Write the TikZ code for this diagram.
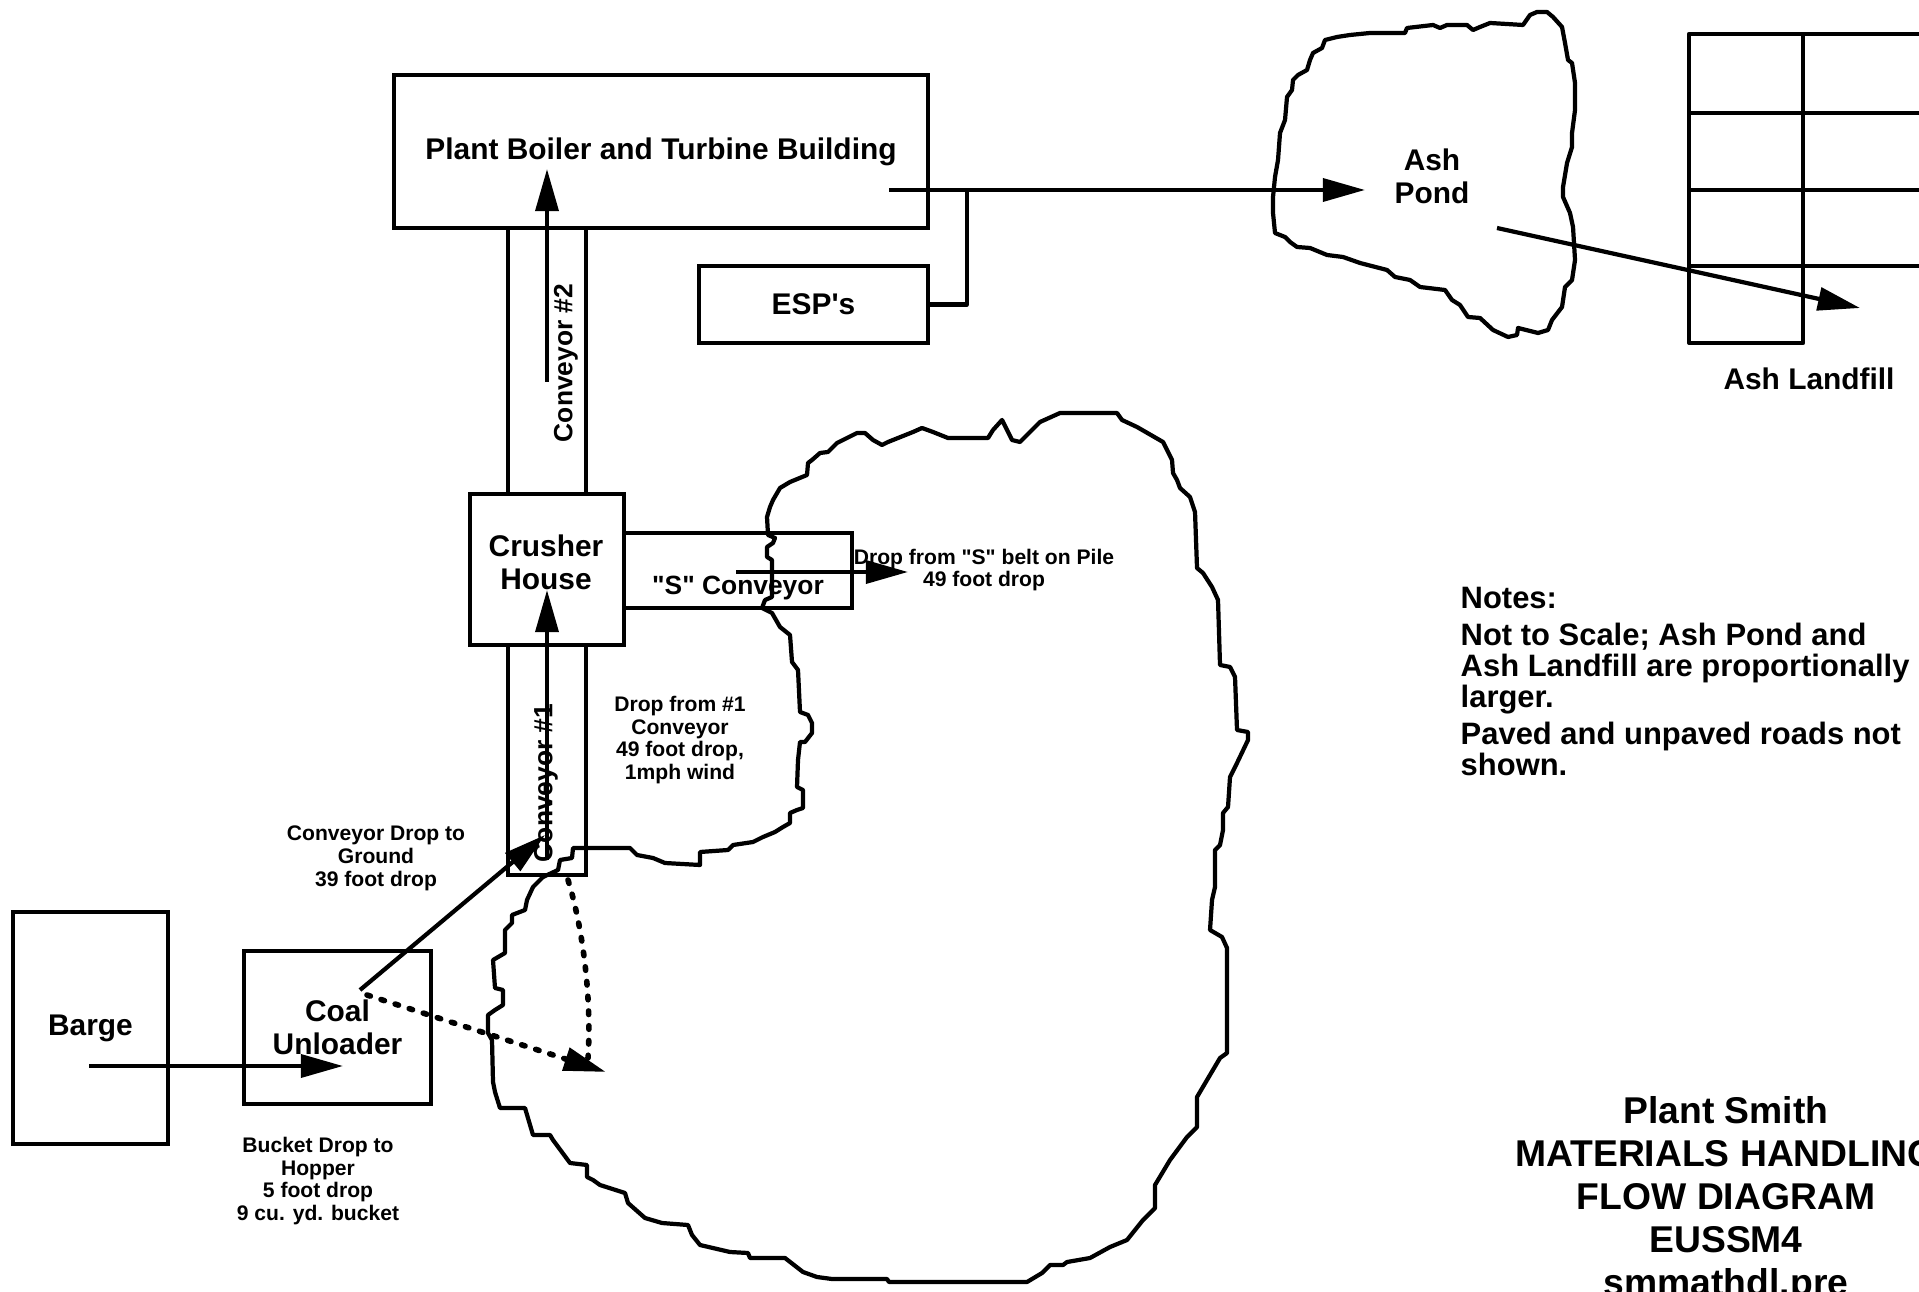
\documentclass[tikz,border=0pt]{standalone}
\usepackage{fontspec}
\setmainfont{Liberation Sans}[Ligatures=TeXOff]
\usetikzlibrary{arrows.meta}
\newcommand{\fntbox}{\fontsize{8.5}{9.3}\selectfont\bfseries}
\newcommand{\fntconv}{\fontsize{7.5}{8}\selectfont\bfseries}
\newcommand{\fntsmall}{\fontsize{6}{6.5}\selectfont\bfseries}
\newcommand{\fntnote}{\fontsize{8.8}{8.8}\selectfont\bfseries}
\newcommand{\fnttitle}{\fontsize{10.6}{12.2}\selectfont\bfseries}
\tikzset{
  box/.style={draw,line width=1.2pt,inner sep=0pt,font=\fntbox,align=center},
  lbl/.style={inner sep=0pt,font=\fntbox,align=center},
  small/.style={inner sep=0pt,font=\fntsmall,align=center},
  edge/.style={line width=1.2pt,line join=round},
  arr/.style={line width=1.2pt,-{Triangle[length=12pt,width=6.5pt]}},
  dots/.style={line width=1.6pt,line cap=round,dash pattern=on 1pt off 3.2pt},
}
\begin{document}
\begin{tikzpicture}[x=0.01cm,y=-0.01cm]
\useasboundingbox (0,0) rectangle (1919,1292);
% buildings and belts
\node[box,minimum width=5.34cm,minimum height=1.53cm] (boiler) at (661,151.5) {Plant Boiler and Turbine Building};
\node[box,minimum width=2.29cm,minimum height=0.77cm] (esp) at (813.5,304.5) {ESP's};
\node[box,minimum width=0.78cm,minimum height=2.66cm] (conv2) at (547,361) {};
\node[box,minimum width=1.54cm,minimum height=1.51cm] (crusher) at (547,569.5) {};
\node[box,minimum width=2.28cm,minimum height=0.75cm] (sconv) at (738,570.5) {};
\node[box,minimum width=0.78cm,minimum height=2.30cm] (conv1) at (547,760) {};
\node[box,minimum width=1.87cm,minimum height=1.53cm] (coal) at (337.5,1027.5) {Coal\\Unloader};
\node[box,minimum width=1.55cm,minimum height=2.32cm] (barge) at (90.5,1028) {Barge};
\node[lbl] (crushertxt) at (546,562) {Crusher\\House};
\node[lbl,font=\fntconv] (sconvtxt) at (738,588) {"S" Conveyor};
\node[lbl,font=\fntconv,rotate=90] (conv2txt) at (566,363) {Conveyor \#2};
\node[lbl,font=\fntconv,rotate=90] (conv1txt) at (546,783) {Conveyor \#1};

% coal pile
\draw[edge] (543,877) -- (558,870) -- (560,860) -- (572,858) -- (573,848) -- (630,848)
  -- (637,855) -- (653,858) -- (665,863) -- (700,865) -- (700,852) -- (728,850) -- (733,845)
  -- (753,842) -- (763,837) -- (775,832) -- (783,827) -- (790,823) -- (790,813) -- (797,810)
  -- (803,808) -- (803,790) -- (797,787) -- (798,760) -- (800,742) -- (805,742) -- (812,733)
  -- (812,723) -- (808,715) -- (800,712) -- (798,670) -- (792,662) -- (790,635) -- (780,627)
  -- (772,613) -- (762,608) -- (765,600) -- (772,597) -- (772,560) -- (767,557) -- (767,547)
  -- (773,543) -- (775,538) -- (768,535) -- (767,517) -- (770,507) -- (773,500) -- (780,488)
  -- (790,482) -- (807,475) -- (808,463) -- (812,460) -- (820,453) -- (828,452) -- (837,443)
  -- (857,433) -- (865,433) -- (873,440) -- (882,445) -- (888,442) -- (913,432) -- (922,428)
  -- (933,432) -- (948,438) -- (988,438) -- (993,430) -- (1002,420) -- (1007,430) -- (1012,440)
  -- (1020,442) -- (1035,427) -- (1040,422) -- (1060,413) -- (1117,413) -- (1122,420)
  -- (1137,427) -- (1163,442) -- (1172,460) -- (1173,473) -- (1177,480) -- (1180,488)
  -- (1190,497) -- (1195,512) -- (1197,568) -- (1203,573) -- (1212,587) -- (1218,600)
  -- (1220,665) -- (1230,667) -- (1235,677) -- (1237,730) -- (1248,732) -- (1248,740)
  -- (1237,763) -- (1230,777) -- (1228,807) -- (1223,813) -- (1223,830) -- (1220,845)
  -- (1215,850) -- (1215,887) -- (1212,900) -- (1210,930) -- (1222,937) -- (1227,948)
  -- (1227,1053) -- (1220,1058) -- (1207,1080) -- (1197,1097) -- (1197,1127) -- (1187,1137)
  -- (1170,1160) -- (1155,1185) -- (1155,1208) -- (1143,1220) -- (1127,1240) -- (1110,1247)
  -- (1090,1258) -- (1067,1262) -- (1063,1265) -- (1050,1265) -- (1042,1273) -- (1027,1282)
  -- (889,1282) -- (887,1279) -- (832,1279) -- (817,1277) -- (803,1272) -- (785,1258)
  -- (750,1258) -- (748,1253) -- (730,1252) -- (700,1245) -- (692,1235) -- (688,1225)
  -- (662,1223) -- (645,1218) -- (628,1203) -- (625,1193) -- (600,1185) -- (593,1180)
  -- (587,1177) -- (587,1165) -- (570,1163) -- (553,1140) -- (550,1135) -- (533,1135)
  -- (525,1108) -- (500,1108) -- (495,1092) -- (493,1082) -- (492,1040) -- (488,1033)
  -- (488,1015) -- (495,1010) -- (503,1005) -- (503,990) -- (495,988) -- (493,960)
  -- (505,953) -- (505,930) -- (512,923) -- (512,915) -- (525,910) -- (527,900) -- (533,887)
  -- cycle;

% ash pond
\draw[edge] (1273,197) -- (1275,177) -- (1278,160) -- (1280,133) -- (1285,120) -- (1287,97)
  -- (1292,90) -- (1293,80) -- (1298,75) -- (1307,70) -- (1310,60) -- (1313,53) -- (1322,48)
  -- (1325,40) -- (1337,37) -- (1350,35) -- (1370,33) -- (1405,33) -- (1407,28) -- (1433,25)
  -- (1440,28) -- (1447,25) -- (1467,25) -- (1473,30) -- (1480,27) -- (1490,23) -- (1523,25)
  -- (1530,15) -- (1537,12) -- (1547,12) -- (1553,17) -- (1562,27) -- (1565,43) -- (1568,60)
  -- (1572,63) -- (1575,83) -- (1575,110) -- (1572,133) -- (1572,147) -- (1567,163)
  -- (1563,187) -- (1563,197) -- (1570,213) -- (1573,227) -- (1575,260) -- (1572,280)
  -- (1565,287) -- (1562,307) -- (1552,320) -- (1548,330) -- (1538,333) -- (1518,328)
  -- (1517,335) -- (1508,337) -- (1493,330) -- (1480,318) -- (1468,317) -- (1460,305)
  -- (1452,300) -- (1445,290) -- (1420,287) -- (1410,280) -- (1395,277) -- (1387,270)
  -- (1360,263) -- (1343,257) -- (1327,255) -- (1310,248) -- (1297,247) -- (1290,242)
  -- (1285,237) -- (1275,233) -- (1273,213) -- cycle;
\node[lbl] (pond) at (1432,176) {Ash\\Pond};

% ash landfill
\draw[edge] (1925,34) -- (1689,34) -- (1689,343) -- (1803,343) -- (1803,34);
\draw[edge] (1689,113) -- (1925,113) (1689,190) -- (1925,190) (1689,266) -- (1925,266);
\node[lbl] (landfill) at (1809,379) {Ash Landfill};

% flows
\coordinate (c2a) at (547,382); \coordinate (c2b) at (547,169);
\draw[arr] (c2a) -- (c2b);
\coordinate (c1a) at (547,860); \coordinate (c1b) at (547,590);
\draw[arr] (c1a) -- (c1b);
\coordinate (sa) at (736,572); \coordinate (sb) at (908,572);
\draw[arr] (sa) -- (sb);
\coordinate (ba) at (89,1066); \coordinate (bb) at (343,1066);
\draw[arr] (ba) -- (bb);
\coordinate (ga) at (360,990); \coordinate (gb) at (545,835);
\draw[arr] (ga) -- (gb);
\coordinate (da) at (367,995); \coordinate (db) at (606,1072);
\draw[dots,-{Triangle[length=12pt,width=6.5pt]}] (da) -- (db);
\coordinate (ca) at (568,880); \coordinate (cb) at (588,1058);
\draw[dots] (ca) .. controls (582,925) and (592,995) .. (cb);
\coordinate (aa) at (889,190); \coordinate (ab) at (1365,190);
\draw[arr] (aa) -- (ab);
\coordinate (espj) at (967,190);
\draw[edge] (esp.east) -| (espj);
\coordinate (la) at (1497,228); \coordinate (lb) at (1860,308);
\draw[arr] (la) -- (lb);

% drop notes
\node[small] (sdrop) at (984,570) {Drop from "S" belt on Pile\\49 foot drop};
\node[small] (c1drop) at (680,740) {Drop from \#1\\Conveyor\\49 foot drop,\\1mph wind};
\node[small] (gdrop) at (376,858) {Conveyor Drop to\\Ground\\39 foot drop};
\node[small] (bdrop) at (318,1181) {Bucket Drop to\\Hopper\\5 foot drop\\9 cu. yd. bucket};

% notes and title
\node[inner sep=0pt,anchor=north west,align=left,font=\fntnote] (notes) at (1460,587)
  {Notes:\\[1.7pt]Not to Scale; Ash Pond and\\Ash Landfill are proportionally\\larger.\\[1.7pt]Paved and unpaved roads not\\shown.};
\node[inner sep=0pt,anchor=north,align=center,font=\fnttitle] (title) at (1726,1096)
  {Plant Smith\\MATERIALS HANDLING\\FLOW DIAGRAM\\EUSSM4\\smmathdl.pre};
\end{tikzpicture}
\end{document}
